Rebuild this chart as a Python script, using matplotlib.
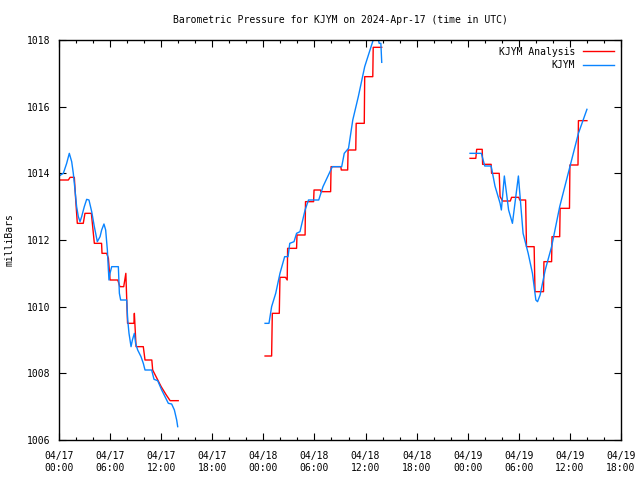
import numpy as np
import matplotlib
matplotlib.use("Agg")
import matplotlib.pyplot as plt
import matplotlib.dates as mdates
from datetime import datetime, timedelta

# ---- data: hours since 2024-04-17 00:00 UTC, pressure in mb ----
blue_h = [0, 0.51, 0.9, 1.21, 1.49, 1.68, 1.88, 2.07, 2.27, 2.47, 2.66, 2.97, 3.25, 3.52, 3.84,
          4.15, 4.5, 4.82, 5.01, 5.28, 5.48, 5.68, 5.79, 5.87, 5.99, 6.19, 6.97, 7.09, 7.24, 7.95,
          8.07, 8.22, 8.46, 8.62, 8.85, 9.0, 9.24, 9.63, 9.9, 10.1, 10.88, 11.16, 11.59, 12.06,
          12.45, 12.84, 13.23, 13.55, 13.82, 13.94,
          np.nan,
          24.2, 24.66, 24.97, 25.45, 25.95, 26.5, 26.9, 27.1, 27.6, 27.9, 28.3, 28.9, 29.3, 30.5,
          31.0, 31.55, 32.1, 33.2, 33.5, 34.0, 34.5, 35.15, 35.9, 36.9, 37.2, 37.6, 37.8, 37.9,
          np.nan,
          48.27, 49.6, 50.0, 50.75, 51.2, 51.8, 51.95, 52.3, 52.8, 53.25, 53.95, 54.5, 55.1, 55.6,
          56.0, 56.2, 56.5, 57.1, 57.85, 58.8, 60.0, 61.0, 62.0]
blue_p = [1013.92, 1014.0, 1014.3, 1014.6, 1014.35, 1014.0, 1013.5, 1013.0, 1012.7, 1012.55,
          1012.7, 1013.0, 1013.22, 1013.2, 1012.85, 1012.4, 1011.95, 1012.1, 1012.3, 1012.48,
          1012.3, 1011.7, 1011.15, 1010.8, 1011.0, 1011.2, 1011.2, 1010.4, 1010.2, 1010.2,
          1009.6, 1009.2, 1008.8, 1009.0, 1009.2, 1008.9, 1008.7, 1008.5, 1008.3, 1008.1,
          1008.1, 1007.82, 1007.78, 1007.5, 1007.3, 1007.1, 1007.08, 1006.9, 1006.6, 1006.4,
          np.nan,
          1009.5, 1009.5, 1010.0, 1010.4, 1011.0, 1011.5, 1011.5, 1011.9, 1011.95, 1012.2,
          1012.25, 1012.9, 1013.2, 1013.2, 1013.6, 1013.9, 1014.2, 1014.2, 1014.6, 1014.75,
          1015.6, 1016.3, 1017.2, 1018.0, 1018.4, 1017.9, 1017.9, 1017.33,
          np.nan,
          1014.6, 1014.6, 1014.22, 1014.22, 1013.62, 1013.1, 1012.9, 1013.92, 1012.9, 1012.5,
          1013.92, 1012.2, 1011.6, 1011.0, 1010.2, 1010.15, 1010.35, 1011.1, 1011.8, 1013.0,
          1014.2, 1015.2, 1015.92]

red_h = [0, 1.1, 1.3, 1.8, 1.95, 2.15, 2.85, 3.05, 3.8, 4.15, 5.0, 5.05, 5.6, 5.8, 6.0, 6.9,
         7.15, 7.6, 7.85, 8.05, 8.8, 8.85, 9.05, 9.9, 10.1, 10.9, 11.0, 11.3, 12.0, 12.6, 13.05, 14.0,
         np.nan,
         24.2, 24.97, 25.05, 25.87, 25.95, 26.6, 26.8, 26.85, 27.9, 27.95, 28.9, 28.95, 29.9, 29.95,
         30.7, 30.75, 31.9, 31.95, 33.1, 33.15, 33.9, 33.95, 34.85, 34.9, 35.85, 35.9, 36.85, 36.9,
         37.9,
         np.nan,
         48.27, 48.95, 49.05, 49.7, 49.75, 50.75, 50.8, 51.7, 51.8, 52.1, 52.4, 53.0, 53.15, 54.0,
         54.1, 54.8, 54.85, 54.9, 55.8, 55.85, 55.9, 56.9, 56.95, 57.85, 57.9, 58.8, 58.85, 59.95,
         60.0, 60.95, 61.0, 62.0]
red_p = [1013.8, 1013.8, 1013.88, 1013.88, 1013.25, 1012.5, 1012.5, 1012.8, 1012.8, 1011.9,
         1011.9, 1011.6, 1011.6, 1011.45, 1010.8, 1010.8, 1010.6, 1010.6, 1011.0, 1009.5, 1009.5,
         1009.8, 1008.8, 1008.8, 1008.4, 1008.4, 1008.1, 1007.95, 1007.6, 1007.35, 1007.18, 1007.18,
         np.nan,
         1008.52, 1008.52, 1009.8, 1009.8, 1010.88, 1010.88, 1010.8, 1011.75, 1011.75, 1012.15,
         1012.15, 1013.15, 1013.15, 1013.5, 1013.5, 1013.45, 1013.45, 1014.2, 1014.2, 1014.1,
         1014.1, 1014.7, 1014.7, 1015.5, 1015.5, 1016.9, 1016.9, 1017.78, 1017.78,
         np.nan,
         1014.45, 1014.45, 1014.72, 1014.72, 1014.27, 1014.27, 1014.0, 1014.0, 1013.3, 1013.17,
         1013.17, 1013.17, 1013.28, 1013.28, 1013.2, 1013.2, 1012.5, 1011.8, 1011.8, 1011.1,
         1010.45, 1010.45, 1011.35, 1011.35, 1012.1, 1012.1, 1012.95, 1012.95, 1014.25, 1014.25,
         1015.58, 1015.58]

start = datetime(2024, 4, 17, 0, 0)

def to_num(hours):
    h = np.asarray(hours, dtype=float)
    t = mdates.date2num([start + timedelta(hours=float(x)) for x in np.nan_to_num(h, nan=0.0)])
    return np.where(np.isnan(h), np.nan, t)

plt.rcParams['font.family'] = ["DejaVu Sans Mono"]
plt.rcParams['font.size'] = 7

fig = plt.figure(figsize=(6.4, 4.8), dpi=100)
ax = fig.add_axes([59/640, 1 - 440/480, (621-59)/640, 400/480])

ax.plot(to_num(red_h), red_p, color="#ff0000", lw=1.0, label="KJYM Analysis")
ax.plot(to_num(blue_h), blue_p, color="#0a84ff", lw=1.0, label="KJYM")

ax.set_xlim(mdates.date2num(start), mdates.date2num(start + timedelta(hours=66)))
ax.set_ylim(1006, 1018)
ax.set_yticks(np.arange(1006, 1019, 2))
ax.xaxis.set_major_locator(mdates.HourLocator(byhour=range(0, 24, 6)))
ax.xaxis.set_minor_locator(mdates.HourLocator(byhour=range(0, 24, 2)))
ax.xaxis.set_major_formatter(mdates.DateFormatter("%m/%d\n%H:%M"))

ax.tick_params(which="major", direction="in", length=5, width=0.8, top=True, right=True,
               labelsize=7)
ax.tick_params(axis="x", which="major", pad=8)
ax.tick_params(axis="y", which="major", pad=6)
ax.tick_params(which="minor", direction="in", length=2.5, width=0.8, top=True, right=False)
ax.tick_params(axis="y", which="minor", left=False, right=False)
for s in ax.spines.values():
    s.set_linewidth(1.0)

ax.set_ylabel("milliBars", fontsize=7, labelpad=9)
ax.set_title("Barometric Pressure for KJYM on 2024-Apr-17 (time in UTC)", fontsize=7, pad=12)

leg = ax.legend(loc="upper right", frameon=False, markerfirst=False, fontsize=7,
                handlelength=3.2, borderaxespad=0.3, labelspacing=0.35, handletextpad=0.8)
for t in leg.get_texts():
    t.set_ha("right")

fig.savefig("out.png", dpi=100)
